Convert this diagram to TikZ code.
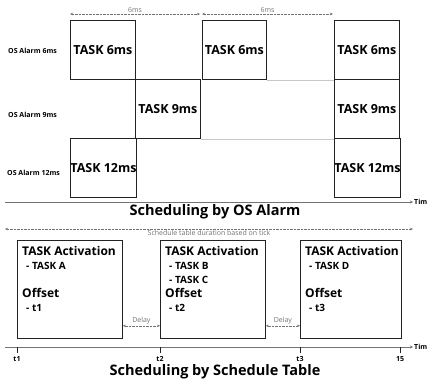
\documentclass[tikz,border=0pt]{standalone}
\usepackage{fontspec}
\setmainfont{Open Sans}
\usepackage{tikz}
\usetikzlibrary{arrows.meta}
\definecolor{primary}{RGB}{35, 35, 35}
\definecolor{faint}{RGB}{115, 115, 115}
\definecolor{guide}{RGB}{200, 200, 200}
\tikzset{
  task/.style={draw=primary,line width=0.8pt,minimum width=65pt,minimum height=59pt,inner sep=0pt,anchor=north west,font=\bfseries\fontsize{12.5}{14}\selectfont},
  alarm/.style={anchor=west,inner sep=0pt,font=\bfseries\fontsize{7}{8}\selectfont},
  span/.style={faint,densely dotted,{Stealth[length=3pt,width=2.5pt]}-{Stealth[length=3pt,width=2.5pt]}},
  note/.style={faint,inner sep=1pt,font=\fontsize{7}{8}\selectfont},
  axis/.style={faint,line width=0.7pt,-{Stealth[length=3pt,width=3pt]}},
  title/.style={font=\bfseries\fontsize{14.5}{16}\selectfont},
  entry/.style={draw=primary,line width=0.8pt,anchor=north west,inner sep=0pt,minimum height=98pt},
  listing/.style={anchor=north west,align=left,inner sep=0pt,font=\bfseries\fontsize{10}{14}\selectfont},
}
\newcommand{\listhead}[1]{{\fontsize{12}{14}\selectfont #1}}
\newcommand{\listitem}[1]{\hspace{4pt}- #1}

\begin{document}
\begin{tikzpicture}[x=1pt,y=-1pt]
\useasboundingbox (0,0) rectangle (430,385);
\node[task] (a6a) at (70,20) {TASK 6ms};
\node[task,minimum width=64pt] (a6b) at (202,20) {TASK 6ms};
\node[task] (a6c) at (334,20) {TASK 6ms};
\node[task] (a9a) at (135,79) {TASK 9ms};
\node[task] (a9b) at (334,79) {TASK 9ms};
\node[task] (a12a) at (70,138) {TASK 12ms};
\node[task] (a12b) at (334,138) {TASK 12ms};
\draw[guide] (a6b.south east) -- (a6c.south west);
\draw[guide] (a9a.south east) -- (a9b.south west);
\node[alarm] (l6) at (8,51) {OS Alarm 6ms};
\node[alarm] (l9) at (8,115) {OS Alarm 9ms};
\node[alarm] (l12) at (7,173) {OS Alarm 12ms};
\draw[span] ([yshift=6pt]a6a.north west) -- ([yshift=6pt,xshift=-2pt]a6b.north west) node[note,midway,above] {6ms};
\draw[span] ([yshift=6pt]a6b.north west) -- ([yshift=6pt,xshift=-1pt]a6c.north west) node[note,midway,above] {6ms};
\coordinate (o1) at (5,202);
\node[alarm,inner sep=1pt] (tim1) at (413,202) {Tim};
\draw[axis] (o1) -- (tim1.west);
\node[title] (h1) at (215,212) {Scheduling by OS Alarm};

\coordinate (d0) at (5,229);
\coordinate (d1) at (413,229);
\draw[span] (d0) -- (d1) node[note,midway,below] {Schedule table duration based on tick};
\node[entry,minimum width=105pt] (b1) at (17,240) {};
\node[entry,minimum width=105pt] (b2) at (160,240) {};
\node[entry,minimum width=101pt] (b3) at (300,240) {};
\node[listing] (s1) at ([xshift=5pt,yshift=-6pt]b1.north west) {\listhead{TASK Activation}\\\listitem{TASK A}\\~\\\listhead{Offset}\\\listitem{t1}};
\node[listing] (s2) at ([xshift=5pt,yshift=-6pt]b2.north west) {\listhead{TASK Activation}\\\listitem{TASK B}\\\listitem{TASK C}\\\listhead{Offset}\\\listitem{t2}};
\node[listing] (s3) at ([xshift=5pt,yshift=-6pt]b3.north west) {\listhead{TASK Activation}\\\listitem{TASK D}\\~\\\listhead{Offset}\\\listitem{t3}};
\draw[span] ([yshift=13pt]b1.south east) -- ([yshift=13pt]b2.south west) node[note,midway,above] {Delay};
\draw[span] ([yshift=13pt]b2.south east) -- ([yshift=13pt]b3.south west) node[note,midway,above] {Delay};
\coordinate (o2) at (5,347);
\node[alarm,inner sep=1pt] (tim2) at (413,347) {Tim};
\draw[axis] (o2) -- (tim2.west);
\foreach \x/\t in {17/t1,160/t2,300/t3,400/15} {
  \draw[primary,line width=1pt] (\x,347) -- (\x,353);
  \node[alarm,anchor=center] at (\x,359) {\t};
}
\node[title] (h2) at (215,372) {Scheduling by Schedule Table};
\end{tikzpicture}
\end{document}
